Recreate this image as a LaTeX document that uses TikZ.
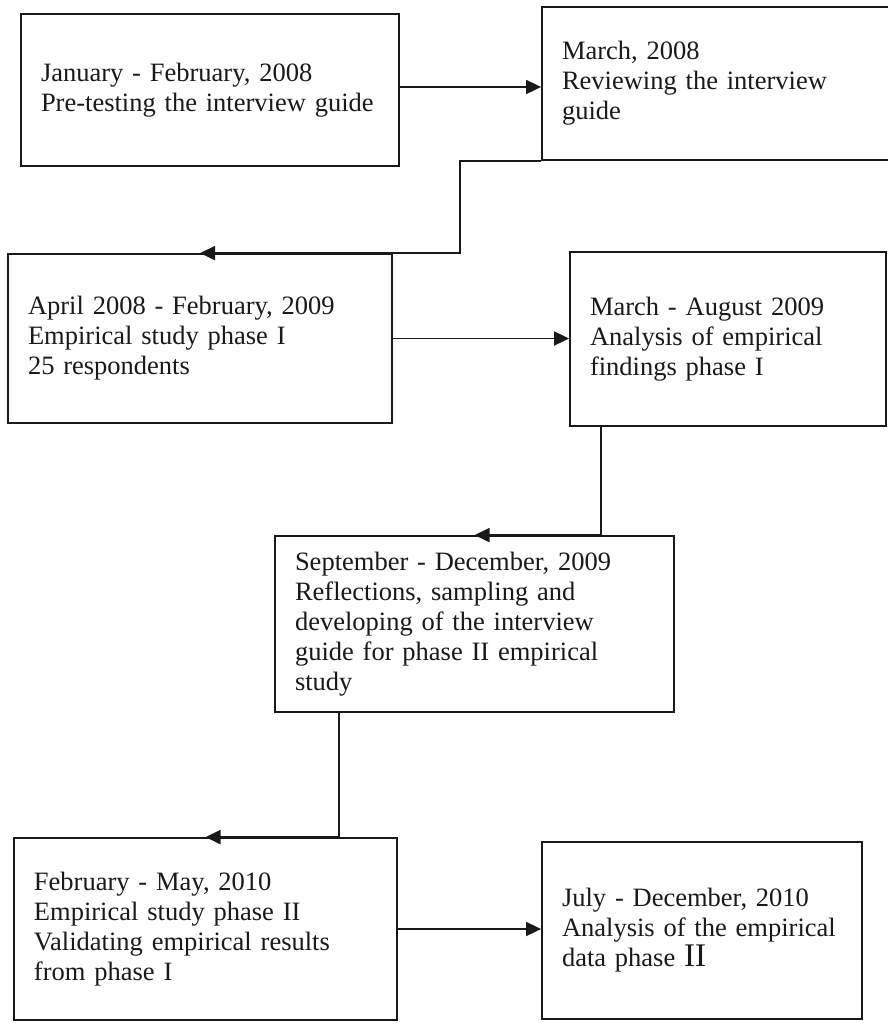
\documentclass[tikz,border=0pt]{standalone}
\usepackage{fontspec}
\setmainfont{Liberation Serif}
\usetikzlibrary{arrows.meta}

\tikzset{
  stage/.style={draw=black!90, line width=1.8pt, align=left, inner xsep=20pt,
    inner ysep=0pt, text=black!90, font=\fontsize{26.5}{30}\selectfont},
  flow/.style={draw=black!90, line width=1.8pt,
    -{Triangle[length=15pt,width=14pt]}},
}

\begin{document}
\begin{tikzpicture}[x=1pt, y=-1pt]
\useasboundingbox (0,0) rectangle (888,1023);

% project stages
\node[stage, text width=338pt, minimum height=152pt] (A) at (210,90)
  {January - February, 2008\\Pre-testing the interview guide};
\node[stage, text width=318pt, minimum height=153pt] (B) at (721,83.5)
  {March, 2008\\Reviewing the interview\\guide};
\node[stage, text width=344pt, minimum height=169pt] (C) at (200,338.5)
  {April 2008 - February, 2009\\Empirical study phase I\\25 respondents};
\node[stage, text width=276pt, minimum height=174pt] (D) at (728,339)
  {March - August 2009\\Analysis of empirical\\findings phase I};
\node[stage, text width=359pt, minimum height=176pt] (E) at (474.5,624)
  {September - December, 2009\\Reflections, sampling and\\developing of the interview\\guide for phase II empirical\\study};
\node[stage, text width=343pt, minimum height=182pt] (F) at (205.5,929)
  {February - May, 2010\\Empirical study phase II\\Validating empirical results\\from phase I};
\node[stage, text width=280pt, minimum height=177pt] (G) at (702,930.5)
  {July - December, 2010\\Analysis of the empirical\\data phase {\fontsize{33}{30}\selectfont II}};

% connectors
\draw[flow] ([yshift=3pt]A.east) -- ([yshift=3pt]A.east -| B.west);
\draw[flow] (B.south west) -| ([xshift=260pt]C.north) -- (C.north);
\draw[flow] (C.east) -- (C.east -| D.west);
\draw[flow] ([xshift=32pt]D.south west) |- (E.north);
\draw[flow] ([xshift=65pt]E.south west) |- (F.north);
\draw[flow] (F.east) -- (F.east -| G.west);
\end{tikzpicture}
\end{document}
